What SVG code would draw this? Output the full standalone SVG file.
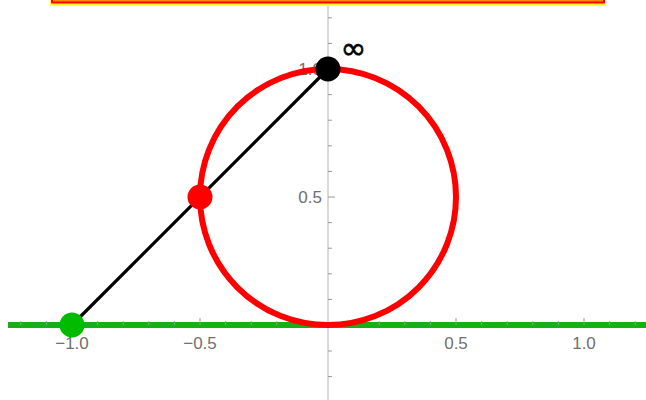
<svg xmlns="http://www.w3.org/2000/svg" width="646" height="400" viewBox="0 0 646 400">
<style>
.ax{stroke:#b3b3b3;stroke-width:1;fill:none}
.tk{stroke:#999;stroke-width:1}
.lbl{font-family:"Liberation Sans",Arial,sans-serif;font-size:17px;fill:#707070}
</style>
<rect width="646" height="400" fill="#fff"/>
<g id="banner">
<rect x="50" y="-20" width="556" height="26" fill="#ffff33"/>
<rect x="52" y="-20" width="552" height="22.5" fill="#ff8800" stroke="#ff0000" stroke-width="2"/>
</g>
<g id="axes">
<line class="ax" x1="328" y1="6" x2="328" y2="400"/>
<path class="tk" d="M328 17.8h4M328 43.4h4M328 94.6h4M328 120.2h4M328 145.8h4M328 171.4h4M328 222.6h4M328 248.2h4M328 273.8h4M328 299.4h4M328 351h4M328 376.6h4M328 69h7M328 197h7"/>
<text class="lbl" x="322" y="203" text-anchor="end">0.5</text>
<text class="lbl" x="322" y="75" text-anchor="end">1.0</text>
</g>
<g id="x-axis">
<line x1="8" y1="325" x2="646" y2="325" stroke="#14b014" stroke-width="6"/>
<path class="tk" d="M20.8 325v-4M46.4 325v-4M97.6 325v-4M123.2 325v-4M148.8 325v-4M174.4 325v-4M225.6 325v-4M251.2 325v-4M276.8 325v-4M302.4 325v-4M353.6 325v-4M379.2 325v-4M404.8 325v-4M430.4 325v-4M481.6 325v-4M507.2 325v-4M532.8 325v-4M558.4 325v-4M609.6 325v-4M635.2 325v-4M72 325v-7M200 325v-7M456 325v-7M584 325v-7"/>
<text class="lbl" x="72" y="349" text-anchor="middle">−1.0</text>
<text class="lbl" x="200" y="349" text-anchor="middle">−0.5</text>
<text class="lbl" x="456" y="349" text-anchor="middle">0.5</text>
<text class="lbl" x="584" y="349" text-anchor="middle">1.0</text>
</g>
<g id="circle">
<circle cx="328" cy="197" r="128" fill="none" stroke="#ff0000" stroke-width="6"/>
</g>
<g id="connectors">
<line x1="72" y1="325" x2="328" y2="69" stroke="#000" stroke-width="3.2"/>
</g>
<g id="point-green"><circle cx="72" cy="325" r="12.5" fill="#00bb00"/></g>
<g id="point-red"><circle cx="200" cy="197" r="12.5" fill="#ff0000"/></g>
<g id="point-infinity">
<circle cx="328" cy="69" r="12.5" fill="#000"/>
<text x="353.5" y="59" font-family="DejaVu Sans,sans-serif" font-size="31" text-anchor="middle" fill="#000" stroke="#000" stroke-width="0.6">∞</text>
</g>
</svg>
